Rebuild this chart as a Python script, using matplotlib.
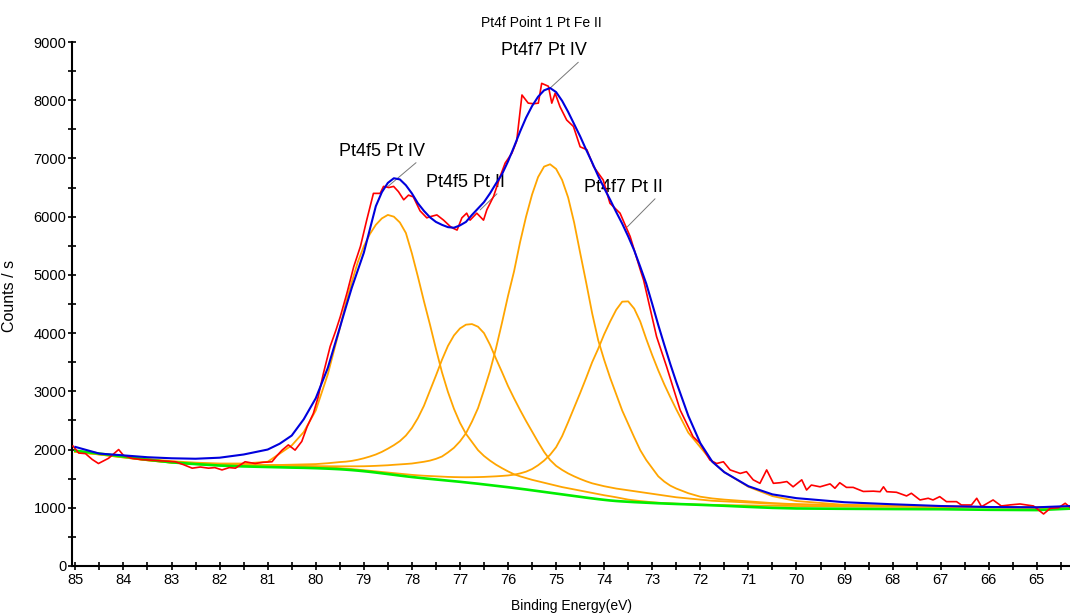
import matplotlib
matplotlib.use("Agg")
import matplotlib.pyplot as plt
from matplotlib.ticker import MultipleLocator

# fitted curves, sampled on one binding energy grid (eV), finer over the peaks
energy_fit = [85.0, 84.5, 84.0, 83.5, 83.0, 82.5, 82.0, 81.5, 81.0, 80.75, 80.5, 80.25, 80.0, 79.75,
              79.5, 79.375, 79.25, 79.125, 79.0, 78.875, 78.75, 78.625, 78.5, 78.375, 78.25, 78.125,
              78.0, 77.875, 77.75, 77.625, 77.5, 77.375, 77.25, 77.125, 77.0, 76.875, 76.75, 76.625,
              76.5, 76.375, 76.25, 76.125, 76.0, 75.875, 75.75, 75.625, 75.5, 75.375, 75.25, 75.125,
              75.0, 74.875, 74.75, 74.625, 74.5, 74.375, 74.25, 74.125, 74.0, 73.875, 73.75, 73.625,
              73.5, 73.375, 73.25, 73.125, 73.0, 72.875, 72.75, 72.625, 72.5,
              72.25, 72.0, 71.75, 71.5, 71.0, 70.5, 70.0, 69.0, 68.0, 67.0, 66.0, 65.0, 64.3]

envelope = [2045, 1930, 1900, 1868, 1850, 1842, 1860, 1915, 2000, 2100, 2240, 2520, 2880, 3400,
            4090, 4440, 4780, 5080, 5380, 5780, 6180, 6420, 6580, 6660, 6640, 6540,
            6400, 6230, 6100, 5990, 5910, 5860, 5820, 5810, 5850, 5910, 6030, 6140,
            6250, 6400, 6570, 6730, 6950, 7200, 7460, 7700, 7900, 8060, 8170, 8210,
            8140, 7990, 7800, 7590, 7380, 7150, 6930, 6700, 6490, 6290, 6080, 5880,
            5660, 5420, 5140, 4850, 4500, 4140, 3800, 3470, 3160,
            2580, 2110, 1790, 1610, 1370, 1230, 1165, 1095, 1060, 1030, 1013, 1008, 1030]

background = [1980, 1930, 1880, 1825, 1780, 1750, 1725, 1710, 1700, 1695, 1690, 1686, 1680, 1672,
              1662, 1655, 1647, 1638, 1628, 1617, 1605, 1592, 1579, 1566, 1553, 1540,
              1528, 1517, 1506, 1496, 1486, 1476, 1466, 1456, 1446, 1435, 1424, 1413,
              1401, 1389, 1377, 1365, 1353, 1340, 1327, 1314, 1300, 1286, 1272, 1258,
              1244, 1230, 1216, 1202, 1188, 1174, 1161, 1148, 1136, 1125, 1116, 1109,
              1103, 1097, 1092, 1087, 1082, 1077, 1073, 1069, 1065,
              1058, 1050, 1042, 1034, 1015, 998, 988, 982, 978, 975, 965, 960, 985]

pt4f5_pt_iv = [1965, 1930, 1885, 1840, 1800, 1775, 1760, 1760, 1790, 1930, 2070, 2300, 2670, 3290,
               4080, 4510, 4880, 5220, 5490, 5700, 5860, 5970, 6030, 6000, 5900, 5720,
               5370, 4970, 4550, 4150, 3730, 3330, 2990, 2700, 2460, 2270, 2130, 1990,
               1890, 1810, 1740, 1680, 1625, 1575, 1540, 1510, 1480, 1455, 1430, 1405,
               1380, 1355, 1335, 1315, 1295, 1275, 1255, 1235, 1215, 1198, 1180, 1160,
               1140, 1127, 1115, 1105, 1095, 1087, 1080, 1075, 1070,
               1060, 1055, 1050, 1045, 1040, 1035, 1030, 1020, 1015, 1010, 1005, 1000, 995]

pt4f5_pt_ii = [1960, 1920, 1870, 1820, 1780, 1755, 1740, 1735, 1735, 1735, 1740, 1745, 1750, 1765,
               1785, 1792, 1805, 1825, 1850, 1880, 1915, 1960, 2015, 2075, 2145, 2240,
               2370, 2540, 2750, 3010, 3270, 3540, 3780, 3960, 4080, 4145, 4155, 4110,
               4000, 3800, 3560, 3330, 3090, 2880, 2680, 2490, 2310, 2130, 1960, 1820,
               1720, 1650, 1590, 1540, 1495, 1455, 1420, 1395, 1370, 1350, 1330, 1315,
               1300, 1285, 1270, 1255, 1240, 1225, 1210, 1195, 1180,
               1160, 1140, 1120, 1110, 1090, 1070, 1060, 1040, 1030, 1020, 1010, 1005, 1000]

pt4f7_pt_iv = [1960, 1915, 1865, 1815, 1775, 1750, 1735, 1725, 1720, 1720, 1718, 1716, 1715, 1713,
               1712, 1712, 1712, 1712, 1713, 1716, 1720, 1725, 1730, 1738, 1745, 1752,
               1760, 1775, 1790, 1810, 1840, 1880, 1950, 2030, 2140, 2280, 2480, 2710,
               3020, 3350, 3740, 4180, 4640, 5060, 5560, 6000, 6380, 6680, 6860, 6900,
               6820, 6630, 6330, 5900, 5380, 4870, 4340, 3880, 3540, 3230, 2950, 2670,
               2440, 2210, 1990, 1820, 1680, 1540, 1450, 1380, 1330,
               1250, 1190, 1160, 1140, 1110, 1080, 1060, 1040, 1030, 1020, 1010, 1005, 1000]

pt4f7_pt_ii = [1960, 1915, 1865, 1815, 1775, 1750, 1738, 1730, 1728, 1725, 1720, 1715, 1705, 1695,
               1680, 1672, 1665, 1655, 1645, 1635, 1625, 1615, 1605, 1595, 1585, 1575,
               1565, 1557, 1550, 1545, 1540, 1535, 1530, 1527, 1525, 1524, 1525, 1527,
               1530, 1535, 1540, 1547, 1555, 1568, 1590, 1620, 1665, 1730, 1810, 1910,
               2040, 2230, 2470, 2720, 2970, 3230, 3500, 3730, 3980, 4200, 4400, 4540,
               4545, 4420, 4200, 3900, 3620, 3360, 3120, 2900, 2690,
               2290, 2040, 1790, 1613, 1360, 1200, 1115, 1050, 1035, 1025, 1015, 1005, 1000]

# measured spectrum
energy_raw = [85.05, 84.93, 84.79, 84.65, 84.52, 84.31, 84.10, 84.00, 83.83,
              83.65, 83.48, 83.30, 83.10, 82.92, 82.75, 82.57, 82.40, 82.23,
              82.10, 81.95, 81.80, 81.67, 81.47, 81.26, 81.10, 80.91, 80.80,
              80.70, 80.57, 80.43, 80.29, 80.18, 80.05, 79.95, 79.84, 79.70,
              79.58, 79.49, 79.35, 79.21, 79.07, 78.94, 78.80, 78.66, 78.59,
              78.48, 78.38, 78.28, 78.17, 78.07, 77.97, 77.83, 77.69, 77.62,
              77.48, 77.34, 77.20, 77.14, 77.06, 76.96, 76.86, 76.79, 76.65,
              76.51, 76.44, 76.30, 76.16, 76.06, 75.92, 75.82, 75.71, 75.58,
              75.47, 75.37, 75.30, 75.16, 75.09, 75.02, 74.92, 74.78, 74.64,
              74.50, 74.36, 74.22, 74.02, 73.88, 73.67, 73.46, 73.25, 73.18,
              72.91, 72.70, 72.42, 72.15, 72.01, 71.80, 71.66, 71.52, 71.38,
              71.17, 71.04, 70.90, 70.76, 70.62, 70.48, 70.34, 70.20, 70.07,
              69.89, 69.79, 69.69, 69.51, 69.30, 69.20, 69.10, 68.96, 68.82,
              68.61, 68.40, 68.26, 68.19, 68.12, 67.92, 67.71, 67.61, 67.43,
              67.26, 67.16, 67.02, 66.88, 66.67, 66.57, 66.36, 66.25, 66.15,
              65.91, 65.74, 65.55, 65.35, 65.07, 64.86, 64.72, 64.55, 64.41,
              64.31]

counts_raw = [2060, 1940, 1930, 1830, 1760, 1850, 2000, 1900, 1850,
              1830, 1820, 1810, 1800, 1790, 1740, 1680, 1700, 1680,
              1690, 1650, 1690, 1680, 1790, 1760, 1780, 1790, 1900,
              1990, 2080, 1990, 2140, 2390, 2620, 2900, 3310, 3770,
              4050, 4280, 4690, 5140, 5490, 5940, 6400, 6400, 6520,
              6500, 6520, 6430, 6290, 6370, 6340, 6100, 5980, 6000,
              6030, 5940, 5830, 5800, 5770, 5980, 6060, 5940, 6060,
              5940, 6120, 6350, 6700, 6920, 7090, 7300, 8090, 7950,
              7940, 7950, 8290, 8240, 7950, 8120, 7890, 7660, 7550,
              7200, 7150, 6860, 6630, 6230, 6060, 5660, 5090, 4910,
              3940, 3420, 2680, 2220, 2110, 1820, 1760, 1790, 1650,
              1590, 1620, 1480, 1420, 1650, 1420, 1430, 1450, 1360,
              1480, 1305, 1390, 1360, 1410, 1335, 1430, 1350, 1350,
              1280, 1285, 1276, 1360, 1276, 1266, 1203, 1249, 1134,
              1163, 1134, 1191, 1105, 1105, 1048, 1048, 1163, 1019,
              1134, 1031, 1050, 1065, 1031, 893, 991, 1000, 1077,
              1008]

peak_labels = ["Pt4f5 Pt IV", "Pt4f5 Pt II", "Pt4f7 Pt IV", "Pt4f7 Pt II"]
label_targets = [(78.51, 6511), (76.58, 6116), (75.12, 8212), (73.52, 5824)]
label_corners = [(77.72, 6975), (76.06, 6440), (74.36, 8700), (72.78, 6355)]

plt.rcParams['font.family'] = ['Liberation Sans', 'DejaVu Sans']

fig = plt.figure(figsize=(10.70, 6.16), dpi=100)
ax = fig.add_axes([0.0673, 0.0812, 0.9327, 0.8506])

for comp in [pt4f5_pt_iv, pt4f5_pt_ii, pt4f7_pt_iv, pt4f7_pt_ii]:
    ax.plot(energy_fit, comp, color='#FFA500', lw=1.3, zorder=2)
ax.plot(energy_fit, background, color='#00EE00', lw=1.9, zorder=3)
ax.plot(energy_raw, counts_raw, color='#FF0000', lw=1.2, zorder=4)
ax.plot(energy_fit, envelope, color='#0000DD', lw=1.5, zorder=5)

for label, target, corner in zip(peak_labels, label_targets, label_corners):
    ax.annotate(label, xy=target, xytext=corner, ha='right', va='bottom',
                fontsize=13,
                arrowprops=dict(arrowstyle='-', color='#777777', lw=0.7,
                                shrinkA=0, shrinkB=0, relpos=(1.0, 0.3)))

ax.set_xlim(85.07, 64.31)
ax.set_ylim(0, 9000)
ax.xaxis.set_major_locator(MultipleLocator(1))
ax.xaxis.set_minor_locator(MultipleLocator(0.5))
ax.yaxis.set_major_locator(MultipleLocator(1000))
ax.yaxis.set_minor_locator(MultipleLocator(500))
ax.tick_params(which='both', direction='inout', length=6, width=1.2,
               labelsize=10.5)
ax.tick_params(axis='y', pad=1)
ax.tick_params(axis='x', pad=2)

for side in ['top', 'right']:
    ax.spines[side].set_visible(False)
for side in ['left', 'bottom']:
    ax.spines[side].set_linewidth(1.5)

ax.set_xlabel('Binding Energy(eV)', fontsize=10, labelpad=9)
ax.set_ylabel('Counts / s', fontsize=11.5)
ax.yaxis.set_label_coords(-0.055, 0.515)
fig.text(0.5056, 0.9627, 'Pt4f Point 1 Pt Fe II', fontsize=10,
         ha='center', va='center')

fig.savefig('out.png', dpi=100)
